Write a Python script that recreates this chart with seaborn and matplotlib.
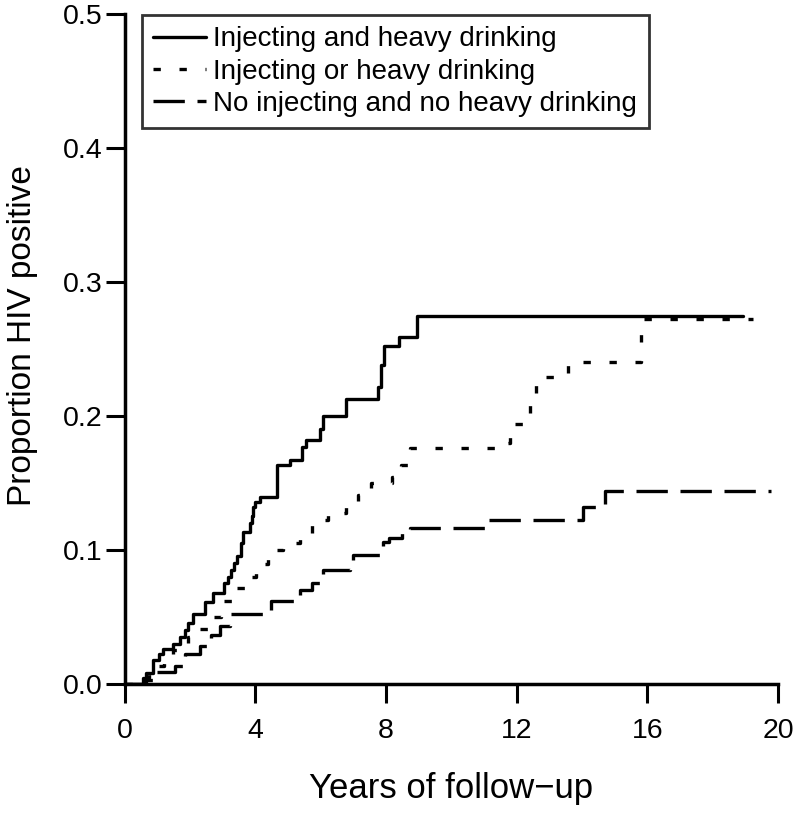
import matplotlib
matplotlib.use("Agg")
import matplotlib.pyplot as plt
import seaborn as sns

# step points (time in years, cumulative proportion)
t_both = [0, 0.55, 0.65, 0.86, 1.05, 1.17, 1.48, 1.68, 1.85, 1.93, 2.09, 2.45, 2.7,
          3.05, 3.15, 3.25, 3.35, 3.45, 3.57, 3.62, 3.83, 3.88, 3.93, 4.0, 4.13,
          4.65, 5.05, 5.44, 5.55, 5.97, 6.06, 6.77, 7.76, 7.85, 7.95, 8.4, 8.95, 18.93]
p_both = [0, 0.004, 0.008, 0.018, 0.022, 0.026, 0.030, 0.035, 0.040, 0.045, 0.052,
          0.061, 0.068, 0.075, 0.080, 0.085, 0.090, 0.095, 0.105, 0.113, 0.120,
          0.125, 0.132, 0.136, 0.139, 0.163, 0.167, 0.177, 0.182, 0.190, 0.200,
          0.2127, 0.2214, 0.238, 0.2517, 0.259, 0.2746, 0.2746]

t_either = [0, 0.6, 0.75, 0.95, 1.2, 1.48, 1.7, 1.95, 2.27, 2.65, 2.96, 3.27, 3.68,
            4.03, 4.39, 4.85, 5.36, 5.72, 6.23, 6.77, 7.14, 7.55, 8.17, 8.47, 8.73,
            11.59, 11.8, 12.4, 12.6, 13.58, 15.82, 19.24]
p_either = [0, 0.004, 0.008, 0.013, 0.019, 0.025, 0.030, 0.035, 0.041, 0.0498,
            0.0614, 0.0714, 0.080, 0.089, 0.0995, 0.105, 0.112, 0.122, 0.1275,
            0.132, 0.141, 0.150, 0.154, 0.163, 0.176, 0.1796, 0.194, 0.2137,
            0.2289, 0.2405, 0.272, 0.272]

t_none = [0, 0.66, 1.0, 1.53, 1.84, 2.3, 2.65, 2.9, 3.22, 4.45, 4.49, 5.36, 5.72,
          6.02, 6.07, 6.9, 7.0, 7.91, 8.1, 8.5, 8.73, 11.13, 14.04, 14.7, 19.8]
p_none = [0, 0.003, 0.009, 0.0134, 0.0222, 0.028, 0.0366, 0.043, 0.052, 0.055,
          0.0614, 0.070, 0.075, 0.079, 0.0846, 0.090, 0.096, 0.106, 0.109, 0.114,
          0.116, 0.122, 0.1316, 0.1435, 0.1435]

labels = ["Injecting and heavy drinking",
          "Injecting or heavy drinking",
          "No injecting and no heavy drinking"]

sns.set_style("ticks")
plt.rcParams['font.family'] = ['Liberation Sans', 'DejaVu Sans']
plt.rcParams.update({"text.color": "black", "axes.labelcolor": "black",
                     "xtick.color": "black", "ytick.color": "black"})

fig = plt.figure(figsize=(8, 8.13), dpi=100)
ax = fig.add_axes([0.156, 0.159, 0.8165, 0.824])

lw = 2.4
series = [(t_both, p_both, (None, None)),
          (t_either, p_either, (2.2, 5.6)),
          (t_none, p_none, (9.4, 3.8))]
handles = []
for (t, p, dash), lab in zip(series, labels):
    sns.lineplot(x=t, y=p, ax=ax, color="black", linewidth=lw,
                 drawstyle="steps-post", estimator=None, label=lab)
    line = ax.get_lines()[-1]
    if dash[0] is not None:
        line.set_dashes(dash)
    handles.append(line)

ax.set_xlim(0, 20)
ax.set_ylim(0, 0.5)
ax.set_xticks([0, 4, 8, 12, 16, 20])
ax.set_yticks([0.0, 0.1, 0.2, 0.3, 0.4, 0.5])
ax.set_yticklabels(["0.0", "0.1", "0.2", "0.3", "0.4", "0.5"])
ax.tick_params(labelsize=20.5, width=2.2, length=14, direction="out",
               color="black", labelcolor="black")
ax.tick_params(axis="x", pad=11)
ax.tick_params(axis="y", pad=2)
for side in ["top", "right"]:
    ax.spines[side].set_visible(False)
for side in ["left", "bottom"]:
    ax.spines[side].set_linewidth(2.5)
    ax.spines[side].set_color("black")

ax.set_xlabel("Years of follow\u2212up", fontsize=25, labelpad=20)
ax.set_ylabel("Proportion HIV positive", fontsize=24)
ax.yaxis.set_label_coords(-0.133, 0.52)

leg = ax.legend(handles=handles, labels=labels, loc="upper left",
                bbox_to_anchor=(0.026, 0.9985), fontsize=20, frameon=True,
                fancybox=False, handlelength=1.9, handletextpad=0.25,
                labelspacing=0.22, borderpad=0.42, borderaxespad=0.0)
leg.get_frame().set_edgecolor("black")
leg.get_frame().set_linewidth(2)

fig.savefig("out.png", dpi=100, facecolor="white")
